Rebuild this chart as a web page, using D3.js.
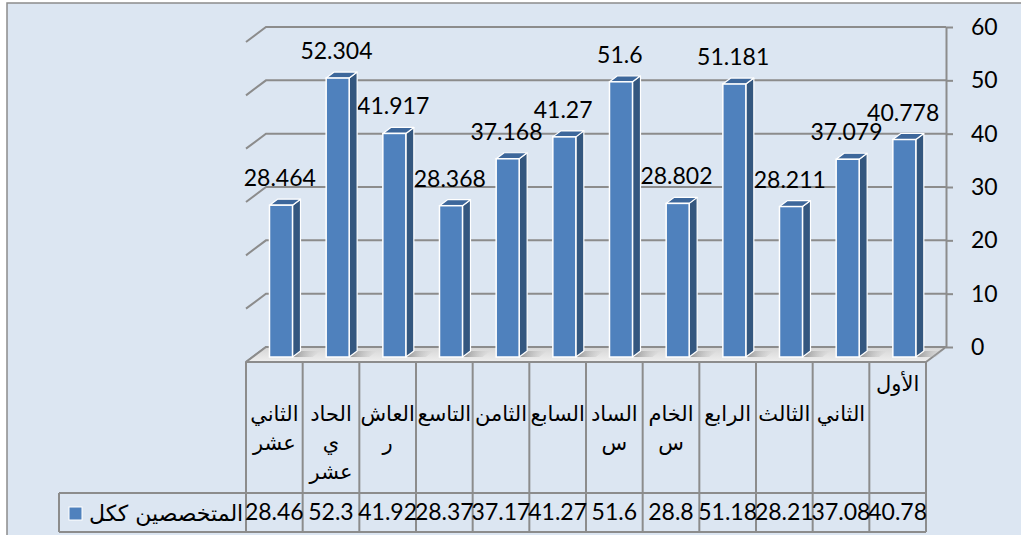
<!DOCTYPE html>
<html>
<head>
<meta charset="utf-8">
<script src="https://cdn.jsdelivr.net/npm/d3@7"></script>
<style>
  body { margin: 0; background: #fff; }
  svg { display: block; }
</style>
</head>
<body>
<script>
// chart data (right to left, as in the original)
const categories = ["الأول", "الثاني", "الثالث", "الرابع", "الخامس", "السادس", "السابع", "الثامن", "التاسع", "العاشر", "الحادي عشر", "الثاني عشر"];
const labelLines = [["الأول"], ["الثاني"], ["الثالث"], ["الرابع"], ["الخام", "س"], ["الساد", "س"], ["السابع"], ["الثامن"], ["التاسع"], ["العاش", "ر"], ["الحاد", "ي", "عشر"], ["الثاني", "عشر"]];
const values = [40.778, 37.079, 28.211, 51.181, 28.802, 51.6, 41.27, 37.168, 28.368, 41.917, 52.304, 28.464];
const yTicks = [0, 10, 20, 30, 40, 50, 60];
const seriesName = "المتخصصين ككل";

const width = 1021, height = 535;
const numFont = "Lato, 'Open Sans', sans-serif";
const arFont = "'DejaVu Sans', sans-serif";
const gridColor = "#8c8c8c";

// 3d geometry
const wallDx = 20, wallDy = -15;      // floor depth
const planeDx = wallDx / 3, planeDy = wallDy / 3; // bars sit one third in
const barW = 23, barDx = 8, barDy = -6;
const floorFront = 362, tableLeft = 59, rowSplit = 493, tableBottom = 532;

const x = d3.scaleBand().domain(categories).range([926, 246]);
const y = d3.scaleLinear().domain([0, 60]).range([347, 27]);
const bw = x.bandwidth();

const svg = d3.select('body').append('svg')
    .attr('width', width)
    .attr('height', height);

const defs = svg.append('defs');
const sh = defs.append('linearGradient').attr('id', 'shadow');
sh.append('stop').attr('offset', 0).attr('stop-color', '#8a8a8a').attr('stop-opacity', 0.9);
sh.append('stop').attr('offset', 1).attr('stop-color', '#bfbfbf').attr('stop-opacity', 0);
const fl = defs.append('linearGradient').attr('id', 'floor').attr('x1', 0).attr('y1', 0).attr('x2', 0).attr('y2', 1);
fl.append('stop').attr('offset', 0).attr('stop-color', '#d4d4d4');
fl.append('stop').attr('offset', 1).attr('stop-color', '#efefef');

// chart area
svg.append('rect')
    .attr('x', 7).attr('y', 3)
    .attr('width', 1040).attr('height', 560)
    .attr('fill', '#dce6f2')
    .attr('stroke', gridColor)
    .attr('stroke-width', 1.5);

// back wall gridlines with the left side diagonals
const grid = svg.append('g')
    .attr('stroke', gridColor)
    .attr('stroke-width', 2)
    .attr('fill', 'none');
grid.selectAll('path')
    .data(yTicks)
    .join('path')
    .attr('d', t => `M${246},${y(t) - wallDy}L${246 + wallDx},${y(t)}H${926 + wallDx}`);

// floor
svg.append('path')
    .attr('d', `M246,${floorFront}H926L${926 + wallDx},${floorFront + wallDy}H${246 + wallDx}Z`)
    .attr('fill', 'url(#floor)')
    .attr('stroke', gridColor)
    .attr('stroke-width', 2)
    .attr('stroke-linejoin', 'round');

// y axis on the right back edge
const axis = svg.append('g')
    .attr('transform', `translate(${926 + wallDx},0)`)
    .call(d3.axisRight(y).tickValues(yTicks).tickSize(7).tickSizeOuter(0).tickPadding(18));
axis.select('.domain').attr('stroke', gridColor).attr('stroke-width', 2);
axis.selectAll('.tick line').attr('stroke', gridColor).attr('stroke-width', 2);
axis.selectAll('.tick text')
    .attr('font-family', numFont)
    .attr('font-size', 23)
    .attr('fill', '#000');

// bars
const base = y(0) - wallDy + planeDy;
const bars = svg.append('g').selectAll('g')
    .data(categories.map((c, i) => ({ c, v: values[i] })))
    .join('g');

const bx0 = d => x(d.c) + bw / 2 - barW / 2 + planeDx;
const bx1 = d => bx0(d) + barW;
const btop = d => y(d.v) - wallDy + planeDy;

bars.append('path') // floor shadow
    .attr('d', d => `M${bx1(d)},${base}L${bx1(d) + barDx},${base + barDy}H${bx1(d) + barDx + 20}L${bx1(d) + 20},${base}Z`)
    .attr('fill', 'url(#shadow)');

bars.append('path') // side
    .attr('d', d => `M${bx1(d)},${btop(d)}L${bx1(d) + barDx},${btop(d) + barDy}V${base + barDy}L${bx1(d)},${base}Z`)
    .attr('fill', '#34577f')
    .attr('stroke', '#fff')
    .attr('stroke-width', 1.2)
    .attr('stroke-linejoin', 'round');

bars.append('path') // top
    .attr('d', d => `M${bx0(d)},${btop(d)}H${bx1(d)}L${bx1(d) + barDx},${btop(d) + barDy}H${bx0(d) + barDx}Z`)
    .attr('fill', '#3d679b')
    .attr('stroke', '#fff')
    .attr('stroke-width', 1.2)
    .attr('stroke-linejoin', 'round');

bars.append('rect') // front
    .attr('x', bx0)
    .attr('y', btop)
    .attr('width', barW)
    .attr('height', d => base - btop(d))
    .attr('fill', '#4f81bd')
    .attr('stroke', '#fff')
    .attr('stroke-width', 1.5);

// value labels
bars.append('text')
    .attr('x', d => x(d.c) + bw / 2 + 5.5)
    .attr('y', d => y(d.v) - 9)
    .attr('text-anchor', 'middle')
    .attr('font-family', numFont)
    .attr('font-size', 23)
    .attr('fill', '#000')
    .text(d => d.v);

// data table
const table = svg.append('g')
    .attr('stroke', gridColor)
    .attr('stroke-width', 2)
    .attr('fill', 'none');
const edges = categories.map(c => x(c)).concat([x(categories[0]) + bw]);
table.selectAll('line.col')
    .data(edges)
    .join('line')
    .attr('x1', d => d).attr('x2', d => d)
    .attr('y1', floorFront).attr('y2', tableBottom);
table.selectAll('line.row')
    .data([rowSplit, tableBottom])
    .join('line')
    .attr('x1', tableLeft).attr('x2', 926)
    .attr('y1', d => d).attr('y2', d => d);
table.append('line')
    .attr('x1', tableLeft).attr('x2', tableLeft)
    .attr('y1', rowSplit).attr('y2', tableBottom);

// category labels
const catText = svg.append('g').selectAll('text')
    .data(categories)
    .join('text')
    .attr('text-anchor', 'middle')
    .attr('font-family', arFont)
    .attr('font-size', 21)
    .attr('fill', '#000');
catText.selectAll('tspan')
    .data((c, i) => labelLines[i].map(s => ({ s, c })))
    .join('tspan')
    .attr('x', d => x(d.c) + bw / 2)
    .attr('y', (d, j) => (d.c === "الأول" ? 391 : 421) + j * 29)
    .text(d => d.s);

// value row
svg.append('g').selectAll('text')
    .data(categories.map((c, i) => ({ c, v: values[i] })))
    .join('text')
    .attr('x', d => x(d.c) + bw / 2)
    .attr('y', 520)
    .attr('text-anchor', 'middle')
    .attr('font-family', numFont)
    .attr('font-size', 23)
    .attr('fill', '#000')
    .text(d => +d.v.toFixed(2));

// legend key in the table
svg.append('rect')
    .attr('x', 69).attr('y', 507)
    .attr('width', 13).attr('height', 13)
    .attr('fill', '#4f81bd')
    .attr('stroke', '#fff')
    .attr('stroke-width', 1);
svg.append('text')
    .attr('x', 89)
    .attr('y', 521)
    .attr('font-family', arFont)
    .attr('font-size', 22)
    .attr('fill', '#000')
    .text(seriesName);
</script>
</body>
</html>
